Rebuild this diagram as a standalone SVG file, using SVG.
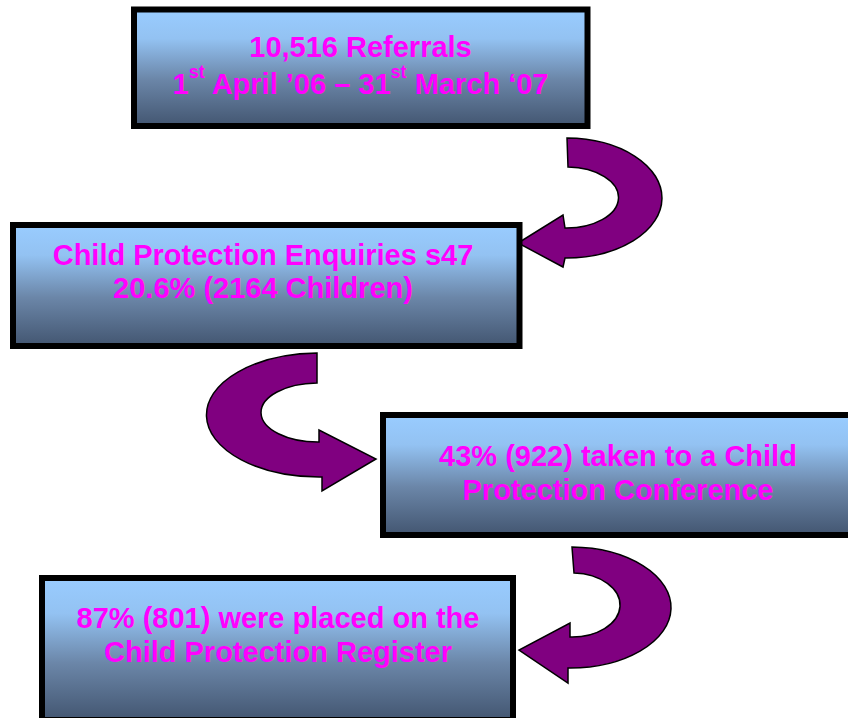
<svg xmlns="http://www.w3.org/2000/svg" width="848" height="718" viewBox="0 0 848 718">
<defs>
<linearGradient id="boxGrad" x1="0" y1="0" x2="0" y2="1">
<stop offset="0" stop-color="#99CCFF"/>
<stop offset="0.25" stop-color="#93C2F2"/>
<stop offset="0.6" stop-color="#6B86A8"/>
<stop offset="1" stop-color="#435671"/>
</linearGradient>
<style>
.box{fill:url(#boxGrad);stroke:#000;stroke-width:6}
.lbl{font-family:"Liberation Sans",Arial,sans-serif;font-weight:bold;font-size:29px;fill:#FF00FF;text-anchor:middle}
.arr{fill:#800080;stroke:#000;stroke-width:1.5;stroke-linejoin:miter}
</style>
</defs>
<rect width="848" height="718" fill="#FFFFFF"/>
<g id="connectors">
<path class="arr" d="M 567 138 A 96 60 0 0 1 565 258 L 563 267 L 518 243 L 563 215 L 565 228 A 52 30.5 0 0 0 568 167 Z"/>
<path class="arr" d="M 317 353 A 113 62 0 0 0 322 477 L 322 491 L 376 459 L 319 430 L 319 442 A 57 29.5 0 0 1 317 383 Z"/>
<path class="arr" d="M 572 547 A 101 60.5 0 0 1 568 668 L 568 683 L 519 650 L 570 623 L 570 637 A 48 32 0 0 0 574 573 Z"/>
</g>
<g id="node1">
<rect class="box" x="134" y="9.5" width="453.5" height="116.5"/>
<text class="lbl" x="360.5" y="57">10,516 Referrals</text>
<text class="lbl" x="360.5" y="94">1<tspan font-size="18" dy="-16">st</tspan><tspan dy="16"> April ’06 – 31</tspan><tspan font-size="18" dy="-16">st</tspan><tspan dy="16"> March ‘07</tspan></text>
</g>
<g id="node2">
<rect class="box" x="13" y="225" width="506.5" height="121"/>
<text class="lbl" x="263" y="265">Child Protection Enquiries s47</text>
<text class="lbl" x="263" y="298">20.6% (2164 Children)</text>
</g>
<g id="node3">
<rect class="box" x="383" y="415" width="473" height="120"/>
<text class="lbl" x="618" y="466">43% (922) taken to a Child</text>
<text class="lbl" x="618" y="500">Protection Conference</text>
</g>
<g id="node4">
<rect class="box" x="42" y="578" width="471" height="142"/>
<text class="lbl" x="278" y="628">87% (801) were placed on the</text>
<text class="lbl" x="278" y="662">Child Protection Register</text>
</g>
</svg>
